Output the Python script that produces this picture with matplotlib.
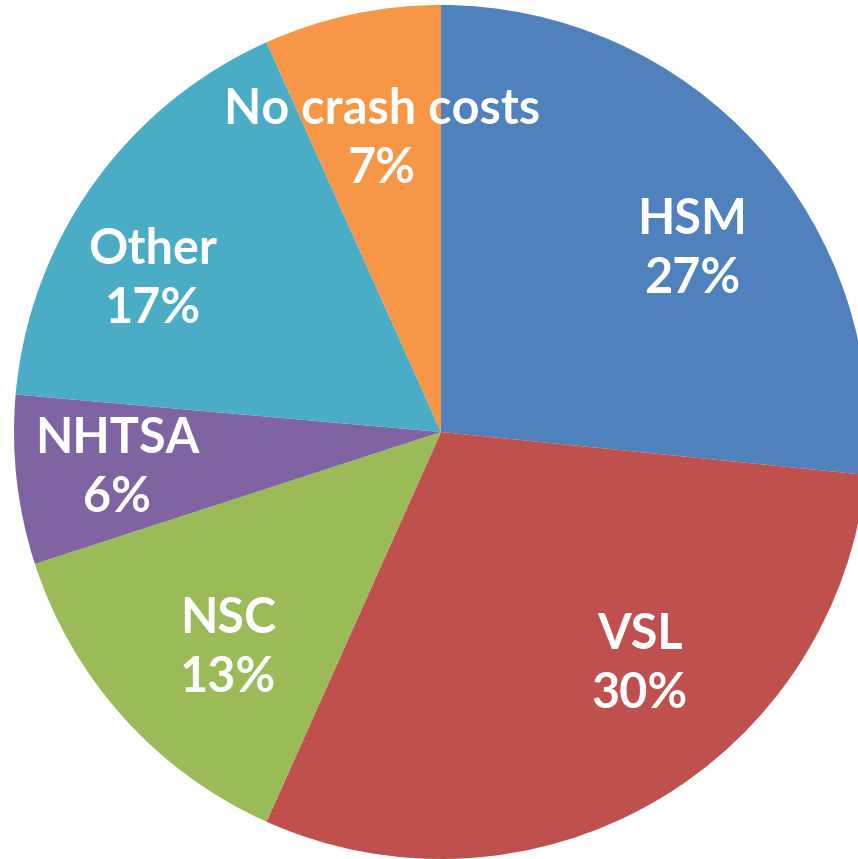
import matplotlib.pyplot as plt

names = ["HSM", "VSL", "NSC", "NHTSA", "Other", "No crash costs"]
shares = [26.6, 30.1, 13.3, 6.4, 16.9, 6.7]
colors = ["#4F81BD", "#C0504D", "#9BBB59", "#8064A2", "#4BACC6", "#F79646"]

# label centres (pixels in the 858x859 image), as placed in the original
label_px = [(692, 249), (640, 664), (228, 648), (117, 468), (153, 279), (382, 139)]

CX, CY, R = 441, 432, 427

fig = plt.figure(figsize=(8.58, 8.59), dpi=100)
ax = fig.add_axes([0, 0, 1, 1])
wedges, texts, autotexts = ax.pie(shares, colors=colors, startangle=90, counterclock=False,
                                  labels=names, autopct="%.0f%%",
                                  wedgeprops=dict(linewidth=0))
for t, a, (px, py) in zip(texts, autotexts, label_px):
    a.set_visible(False)
    t.set_text(t.get_text() + "\n" + a.get_text())
    t.set_position(((px - CX) / R, (CY - py) / R))
    t.set_color("white")
    t.set_fontsize(35)
    t.set_fontweight("bold")
    t.set_family("Lato")
    t.set_ha("center")
    t.set_va("center")
    t.set_linespacing(1.4)

ax.set_aspect("auto")
ax.set_xlim(-CX / R, (858 - CX) / R)
ax.set_ylim(-(859 - CY) / R, CY / R)
ax.axis("off")
plt.savefig("out.png", dpi=100)
